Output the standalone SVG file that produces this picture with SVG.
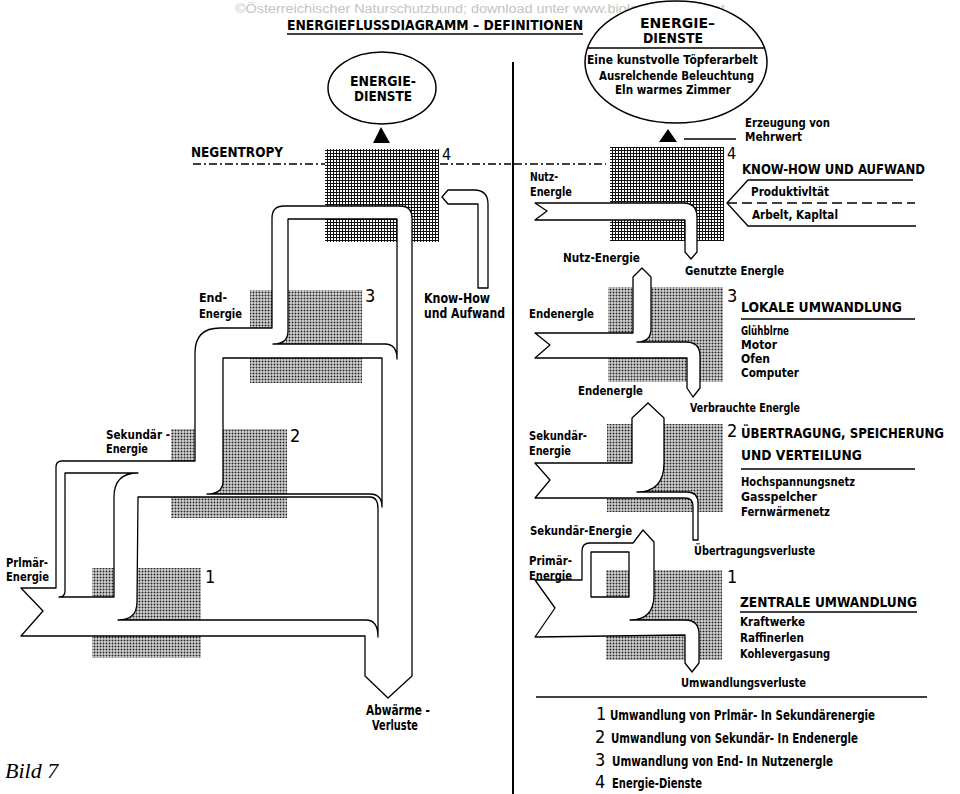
<svg xmlns="http://www.w3.org/2000/svg" width="960" height="794" viewBox="0 0 960 794">
<defs>
<pattern id="hatch" width="3" height="3" patternUnits="userSpaceOnUse"><rect width="3" height="3" fill="#fff"/><path d="M0 .5H3M.5 0V3" stroke="#111" stroke-width="1"/></pattern>
<pattern id="dots" width="3" height="3" patternUnits="userSpaceOnUse"><rect width="3" height="3" fill="#fff"/><rect x=".5" y=".5" width="2" height="2" fill="#222"/></pattern>
</defs>
<style>
.t{font-family:'Liberation Sans Narrow','DejaVu Sans Condensed','Liberation Sans',Arial,sans-serif;font-weight:bold;font-size:13px;fill:#000}
.h{font-size:14.5px}
.n{font-weight:normal;font-size:18px}
.p{fill:#fff;stroke:#000;stroke-width:1.3;stroke-linejoin:round;fill-rule:evenodd}
.l{fill:none;stroke:#000;stroke-width:1.3}
.dd{fill:none;stroke:#000;stroke-width:1.3;stroke-dasharray:8 3 2 3}
.hb{fill:url(#hatch)}
.db{fill:url(#dots)}
</style>
<rect width="960" height="794" fill="#fff"/>
<text x="235" y="13" textLength="490" lengthAdjust="spacingAndGlyphs" style="font-family:'Liberation Sans',Arial,sans-serif;font-size:12.5px;fill:#c4c4c4">©Österreichischer Naturschutzbund; download unter www.biologiezentrum.at</text>
<g id="title">
<text class="t" x="287" y="30" textLength="296" lengthAdjust="spacingAndGlyphs" style="font-size:14px">ENERGIEFLUSSDIAGRAMM – DEFINITIONEN</text>
<line class="l" x1="287" y1="34" x2="583" y2="34" stroke-width="1.5"/>
</g>
<line id="divider" x1="513" y1="62" x2="513" y2="794" stroke="#000" stroke-width="2"/>

<!-- LEFT DIAGRAM -->
<g id="left-boxes">
<rect class="hb" x="325" y="149" width="114" height="93"/>
<rect class="db" x="250" y="290" width="112" height="93"/>
<rect class="db" x="171" y="429" width="116" height="89"/>
<rect class="db" x="92" y="568" width="109" height="90"/>
</g>
<g id="connectors">
<path class="dd" d="M193,164H325M440,164H511M514,164H606"/>
<path class="p" d="M21,588 L56,588 L56,467 Q56,461 62,461 L195,461 L195,353 Q195,328 220,328 L272,328 L272,218 Q272,206 284,206 L400,206 Q412,206 412,218 L412,676 L388,698 L365,676 L365,636 L21,636 L43,611 Z M65,473 L138,473 Q114,473 114,497 L114,597 L59,597 Q65,597 65,591 Z M138,497 L370,497 Q378,497 378,509 L378,637 Q378,620 366,620 L118,620 Q137,620 137,602 Z M223,358 L382,358 L382,507 Q382,494 370,494 L207,494 Q223,494 223,481 Z M288,219 L397,219 L397,359 Q397,344 385,344 L273,344 Q288,344 288,331 Z"/>
<path class="p" d="M442,197 L448,190 L474,190 Q488,190 488,204 L488,288 L478,288 L478,204 L448,204 Z"/>
<polygon points="381,127 373,143 390,143" fill="#000"/>
<polygon points="668,129 659,142 677,142" fill="#000"/>
</g>
<g id="left-dienste">
<ellipse cx="382" cy="88" rx="54" ry="36" fill="#fff" stroke="#000" stroke-width="1.5"/>
<text class="t" x="383" y="86" text-anchor="middle" style="font-size:14px" textLength="66" lengthAdjust="spacingAndGlyphs">ENERGIE-</text>
<text class="t" x="383" y="101" text-anchor="middle" style="font-size:14px" textLength="58" lengthAdjust="spacingAndGlyphs">DIENSTE</text>
</g>
<g id="left-labels">
<text class="t h" x="191" y="157" textLength="92" lengthAdjust="spacingAndGlyphs">NEGENTROPY</text>
<text class="t n" x="442" y="160" style="font-size:16px">4</text>
<text class="t" x="424" y="303" style="font-size:14px" textLength="66" lengthAdjust="spacingAndGlyphs">Know-How</text>
<text class="t" x="424" y="318" style="font-size:14px" textLength="81" lengthAdjust="spacingAndGlyphs">und Aufwand</text>
<text class="t" x="199" y="302" textLength="28" lengthAdjust="spacingAndGlyphs">End-</text>
<text class="t" x="199" y="318" textLength="43" lengthAdjust="spacingAndGlyphs">Energie</text>
<text class="t n" x="365" y="302">3</text>
<text class="t" x="106" y="439" textLength="64" lengthAdjust="spacingAndGlyphs">Sekundär -</text>
<text class="t" x="106" y="453" textLength="42" lengthAdjust="spacingAndGlyphs">Energie</text>
<text class="t n" x="290" y="442">2</text>
<text class="t" x="6" y="567" textLength="42" lengthAdjust="spacingAndGlyphs">Prlmär-</text>
<text class="t" x="6" y="581" textLength="43" lengthAdjust="spacingAndGlyphs">Energie</text>
<text class="t n" x="205" y="583">1</text>
<text class="t" x="366" y="715" style="font-size:14px" textLength="64" lengthAdjust="spacingAndGlyphs">Abwärme -</text>
<text class="t" x="372" y="730" style="font-size:14px" textLength="46" lengthAdjust="spacingAndGlyphs">Verluste</text>
<text x="5" y="778" style="font-family:'Liberation Serif','Times New Roman',serif;font-style:italic;font-size:22px">Bild 7</text>
</g>

<!-- RIGHT DIAGRAM -->
<g id="right-dienste">
<ellipse cx="676" cy="62" rx="91" ry="61" fill="#fff" stroke="#000" stroke-width="1.5"/>
<text class="t" x="640" y="28" style="font-size:14px" textLength="75" lengthAdjust="spacingAndGlyphs">ENERGIE–</text>
<text class="t" x="643" y="43" style="font-size:14px" textLength="60" lengthAdjust="spacingAndGlyphs">DIENSTE</text>
<line class="l" x1="587" y1="48" x2="764" y2="48"/>
<text class="t" x="587" y="64" textLength="171" lengthAdjust="spacingAndGlyphs">Eine kunstvolle Töpferarbelt</text>
<text class="t" x="599" y="80" textLength="155" lengthAdjust="spacingAndGlyphs">Ausrelchende Beleuchtung</text>
<text class="t" x="615" y="94" textLength="116" lengthAdjust="spacingAndGlyphs">Eln warmes Zimmer</text>
</g>
<g id="right-stage4">
<rect class="hb" x="610" y="147" width="114" height="94"/>
<path class="p" d="M535,203 L683,203 Q697,203 697,217 L697,252 L691,259 L685,252 L685,220 L535,220 L547,211 Z"/>
<polyline class="l" points="913,180 748,180 727,203 748,226 916,226"/>
<line class="l" x1="727" y1="203" x2="915" y2="203" stroke-dasharray="10 5"/>
<line class="l" x1="684" y1="139" x2="736" y2="139"/>
<text class="t" x="745" y="127" style="font-size:12.5px" textLength="85" lengthAdjust="spacingAndGlyphs">Erzeugung von</text>
<text class="t" x="745" y="141" style="font-size:12.5px" textLength="57" lengthAdjust="spacingAndGlyphs">Mehrwert</text>
<text class="t n" x="727" y="159" style="font-size:16px">4</text>
<text class="t h" x="742" y="174" textLength="183" lengthAdjust="spacingAndGlyphs">KNOW-HOW UND AUFWAND</text>
<text class="t" x="751" y="196" textLength="78" lengthAdjust="spacingAndGlyphs">Produktivltät</text>
<text class="t" x="752" y="219" textLength="86" lengthAdjust="spacingAndGlyphs">Arbelt, Kapltal</text>
<text class="t" x="530" y="181" textLength="28" lengthAdjust="spacingAndGlyphs">Nutz-</text>
<text class="t" x="530" y="196" textLength="42" lengthAdjust="spacingAndGlyphs">Energle</text>
<text class="t" x="563" y="262" textLength="77" lengthAdjust="spacingAndGlyphs">Nutz-Energie</text>
<text class="t" x="685" y="275" textLength="99" lengthAdjust="spacingAndGlyphs">Genutzte Energle</text>
</g>
<g id="right-stage3">
<rect class="db" x="608" y="287" width="115" height="95"/>
<path class="p" d="M535,333 L633,333 L633,277 L642,268 L651,277 L651,329 Q651,342 637,342 L686,342 Q700,342 700,356 L700,388 L693,397 L687,388 L687,358 L535,358 L550,345 Z"/>
<text class="t n" x="727" y="302">3</text>
<text class="t h" x="741" y="312" textLength="161" lengthAdjust="spacingAndGlyphs">LOKALE UMWANDLUNG</text>
<line class="l" x1="741" y1="319" x2="915" y2="319"/>
<text class="t" x="741" y="335" textLength="48" lengthAdjust="spacingAndGlyphs">Glühblrne</text>
<text class="t" x="741" y="349" textLength="36" lengthAdjust="spacingAndGlyphs">Motor</text>
<text class="t" x="741" y="363" textLength="29" lengthAdjust="spacingAndGlyphs">Ofen</text>
<text class="t" x="741" y="377" textLength="58" lengthAdjust="spacingAndGlyphs">Computer</text>
<text class="t" x="529" y="318" textLength="65" lengthAdjust="spacingAndGlyphs">Endenergle</text>
<text class="t" x="578" y="395" textLength="65" lengthAdjust="spacingAndGlyphs">Endenergle</text>
<text class="t" x="690" y="412" textLength="110" lengthAdjust="spacingAndGlyphs">Verbrauchte Energle</text>
</g>
<g id="right-stage2">
<rect class="db" x="607" y="424" width="116" height="88"/>
<path class="p" d="M535,463 L632,463 L632,418 L648,403 L664,418 L664,463 Q664,492 637,492 L687,492 Q698,492 698,503 L698,540 L693,540 L693,506 Q693,498 685,498 L535,498 L550,480 Z"/>
<text class="t" x="529" y="440" textLength="58" lengthAdjust="spacingAndGlyphs">Sekundär-</text>
<text class="t" x="529" y="455" textLength="42" lengthAdjust="spacingAndGlyphs">Energie</text>
<text class="t n" x="727" y="437">2</text>
<text class="t" x="741" y="438" style="font-size:13.5px" textLength="203" lengthAdjust="spacingAndGlyphs">ÜBERTRAGUNG, SPEICHERUNG</text>
<text class="t h" x="741" y="460" textLength="121" lengthAdjust="spacingAndGlyphs">UND VERTEILUNG</text>
<line class="l" x1="741" y1="469" x2="915" y2="469"/>
<text class="t" x="741" y="486" textLength="114" lengthAdjust="spacingAndGlyphs">Hochspannungsnetz</text>
<text class="t" x="741" y="501" textLength="76" lengthAdjust="spacingAndGlyphs">Gasspelcher</text>
<text class="t" x="741" y="516" textLength="89" lengthAdjust="spacingAndGlyphs">Fernwärmenetz</text>
<text class="t" x="694" y="555" textLength="121" lengthAdjust="spacingAndGlyphs">Übertragungsverluste</text>
</g>
<g id="right-stage1">
<rect class="db" x="606" y="570" width="116" height="90"/>
<path class="p" d="M535,580 L582,580 L582,551 Q582,543 590,543 L633,543 L643,530 L654,542 L654,595 Q654,620 630,620 L685,620 Q699,620 699,634 L699,663 L692,672 L685,663 L685,635 L535,637 L555,608 Z M591,552 L629,552 L629,597 L591,597 Z"/>
<text class="t" x="530" y="535" textLength="102" lengthAdjust="spacingAndGlyphs">Sekundär-Energie</text>
<text class="t" x="529" y="565" textLength="43" lengthAdjust="spacingAndGlyphs">Primär-</text>
<text class="t" x="529" y="580" textLength="43" lengthAdjust="spacingAndGlyphs">Energie</text>
<text class="t n" x="727" y="583">1</text>
<text class="t h" x="740" y="607" textLength="177" lengthAdjust="spacingAndGlyphs">ZENTRALE UMWANDLUNG</text>
<line class="l" x1="740" y1="612" x2="917" y2="612"/>
<text class="t" x="740" y="626" textLength="65" lengthAdjust="spacingAndGlyphs">Kraftwerke</text>
<text class="t" x="740" y="642" textLength="64" lengthAdjust="spacingAndGlyphs">Raffinerlen</text>
<text class="t" x="740" y="658" textLength="90" lengthAdjust="spacingAndGlyphs">Kohlevergasung</text>
<text class="t" x="681" y="687" textLength="125" lengthAdjust="spacingAndGlyphs">Umwandlungsverluste</text>
</g>
<g id="legend">
<line class="l" x1="536" y1="697" x2="927" y2="697"/>
<text class="t n" x="596" y="720">1</text>
<text class="t" x="610" y="720" style="font-size:14px" textLength="265" lengthAdjust="spacingAndGlyphs">Umwandlung von Prlmär- In Sekundärenergie</text>
<text class="t n" x="595" y="743">2</text>
<text class="t" x="611" y="743" style="font-size:14px" textLength="247" lengthAdjust="spacingAndGlyphs">Umwandlung von Sekundär- In Endenergle</text>
<text class="t n" x="595" y="766">3</text>
<text class="t" x="612" y="766" style="font-size:14px" textLength="221" lengthAdjust="spacingAndGlyphs">Umwandlung von End- In Nutzenergle</text>
<text class="t n" x="595" y="788">4</text>
<text class="t" x="612" y="788" style="font-size:14px" textLength="90" lengthAdjust="spacingAndGlyphs">Energie-Dienste</text>
</g>
</svg>
